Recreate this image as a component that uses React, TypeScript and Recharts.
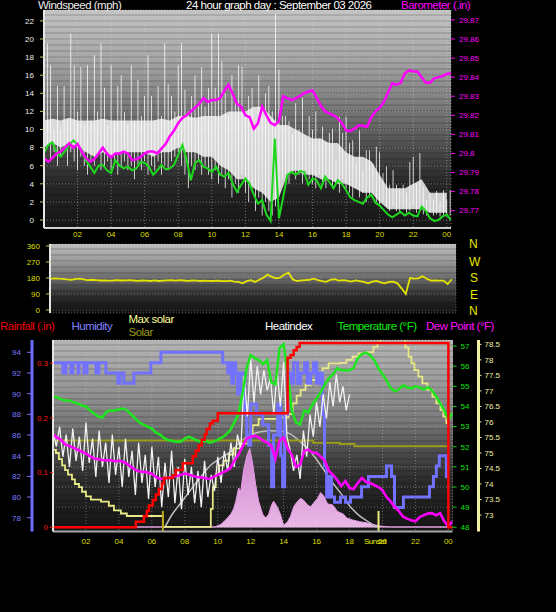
import React from 'react'
import {
  ComposedChart,
  Line,
  Area,
  Bar,
  XAxis,
  YAxis,
  CartesianGrid,
} from 'recharts'

const FONT = '"Liberation Sans", Arial, sans-serif'

// hours of the day, 24 = midnight
const HOUR_TICKS = [2, 4, 6, 8, 10, 12, 14, 16, 18, 20, 22, 24]
const X_DOMAIN: [number, number] = [0, 24.25]

// ── top panel: wind (mph) + barometer (in), sampled every 15 min
const avgWind = [
  7.4, 8.3, 8.6, 7.5, 7.0, 7.6, 8.3, 8.8, 8.3, 7.7, 6.6, 5.9, 5.2, 6.0, 6.1, 5.5, 5.2, 6.6, 6.0, 5.7,
  5.9, 5.5, 5.7, 6.4, 6.3, 5.9, 5.0, 5.5, 6.1, 5.6, 5.7, 6.1, 7.2, 8.3, 6.6, 4.4, 6.3, 6.6, 5.9, 5.7,
  5.3, 5.9, 5.0, 4.8, 5.2, 4.0, 3.1, 3.9, 4.6, 4.0, 2.8, 1.8, 2.2, 0.6, -0.1, 9.0, 0.2, 2.5, 5.0, 5.3,
  5.0, 5.4, 5.3, 3.9, 4.6, 4.4, 3.5, 4.8, 4.2, 3.5, 4.4, 4.0, 3.3, 2.5, 2.2, 2.0, 1.8, 2.5, 2.8, 1.9,
  1.6, 1.1, 0.6, 0.3, 0.6, 0.9, 0.5, 0.8, 0.5, 0.4, 1.5, 1.0, 0.2, -0.1, 0.0, 0.4, 0.6, 0.0,
]
const barometer = [
  29.7975, 29.7957, 29.7975, 29.8, 29.801, 29.803, 29.8053, 29.803, 29.805, 29.801,
  29.7975, 29.7957, 29.797, 29.8, 29.803, 29.8, 29.798, 29.8, 29.8, 29.801,
  29.8, 29.7965, 29.797, 29.798, 29.8, 29.801, 29.801, 29.8, 29.8025, 29.805,
  29.809, 29.812, 29.816, 29.8186, 29.82, 29.822, 29.824, 29.826, 29.829, 29.827,
  29.828, 29.828, 29.829, 29.833, 29.836, 29.831, 29.826, 29.8245, 29.82, 29.819,
  29.813, 29.8158, 29.8245, 29.82, 29.816, 29.8148, 29.817, 29.83, 29.829, 29.828,
  29.829, 29.83, 29.8316, 29.8325, 29.833, 29.829, 29.825, 29.822, 29.821, 29.82,
  29.8184, 29.816, 29.812, 29.8118, 29.813, 29.8148, 29.8145, 29.814, 29.819, 29.822,
  29.824, 29.827, 29.832, 29.8368, 29.836, 29.837, 29.842, 29.8435, 29.843, 29.843,
  29.84, 29.837, 29.837, 29.8394, 29.84, 29.8405, 29.8417, 29.842,
]
// gusts every 12 min
const gustWind = [
  9, 19.5, 17.1, 10, 14.8, 10, 14.8, 11, 20.6, 17.1, 12, 16.9, 10.5, 17.1, 11, 18.2, 12, 19.5, 14.6, 10.5,
  17.1, 11, 14.8, 16.0, 11.9, 10.5, 17.1, 11, 15.5, 11.5, 13.7, 18.2, 13.7, 11, 14.8, 11.5, 19.5, 15, 13.7, 12,
  17.1, 19.5, 14.4, 12, 13.7, 16.0, 13, 16.9, 12.5, 14.6, 20.6, 14.6, 20.6, 17.6, 14.0, 11.5, 16.0, 13, 17.1, 16.9,
  12, 13.7, 14.6, 10, 16.0, 11.5, 14.0, 14.8, 12, 22.8, 16.6, 11.5, 11.5, 10.9, 9.5, 12.9, 10, 13.5, 9.2, 11.5,
  10, 12, 9, 10.3, 8.5, 9.6, 10.1, 6.6, 11.4, 9.6, 11.4, 8.5, 8.8, 6.3, 9.9, 5.5, 7.7, 7.7, 6.3, 8.1,
  7.5, 5.2, 5.9, 3.9, 5.5, 3.9, 3.5, 3.9, 3, 6.4, 7.0, 4, 7.4, 3.7, 2.2, 3, 2.2, 3.2, 2.0, 3.3,
  2.2, 3.3,
]
// lulls every 12 min (bottom of each gust stroke)
const lullWind = [
  7, 8, 6.5, 7.5, 6, 7, 8, 6, 7.5, 6.5, 5.5, 7, 6, 5, 6.5, 6, 7, 5.5, 6, 6.5,
  5.5, 6.5, 5, 6, 6.5, 5.5, 6, 4.5, 6, 5.5, 6.5, 5, 6, 5.5, 6.5, 5, 6, 5.5, 6.5, 7,
  7.5, 6, 5, 3.5, 6, 5.5, 6.5, 5, 6, 5, 4.5, 5.5, 4, 5, 3.5, 4.5, 2.5, 4, 3, 5,
  3, 2, 3.5, 1, 2.5, 0.5, 2, 1, 0.5, 1.5, 3, 4.5, 5, 4, 5.5, 4.5, 5, 4, 5.5, 4.5,
  4, 3.5, 5, 4, 3.5, 4.5, 3.5, 4, 3, 4.5, 3.5, 3, 2.5, 3.5, 2.5, 3, 2, 2.5, 3, 2,
  1.5, 2, 1.5, 1, 1.5, 1, 0.8, 1.2, 0.8, 1, 1.5, 0.8, 1, 0.6, 0.5, 0.8, 0.5, 0.6, 0.4, 0.5,
  0.4, 0.5,
]
// dense wind band every 30 min
const windBandHigh = [
  11, 11.2, 11, 11.3, 11, 11, 11, 11.2, 11, 11, 11, 11, 11, 11, 11.2, 11, 11.5, 11.5, 11.3, 11.5,
  11.5, 11.5, 12, 12, 12, 12.5, 12.5, 11.5, 10.5, 10.5, 10, 9.5, 9, 9, 8.5, 8.5, 7.5, 7, 7, 6.5,
  5, 3.5, 3.5, 3.5, 4, 4.5, 3, 3, 3,
]
const windBandLow = [
  8, 8.5, 8, 8.5, 8, 7.5, 7, 7.5, 7, 7.5, 7.5, 7.5, 7.5, 7, 7.5, 7.5, 8, 7.5, 7.5, 7,
  7, 6, 5.5, 4.5, 4.5, 3.5, 3, 2, 2.5, 5, 5.5, 5, 5, 4.5, 4.5, 4, 4, 3.5, 3, 3,
  2, 1.2, 1.2, 1.2, 1.2, 1.2, 0.8, 0.8, 0.8,
]

// ── middle panel: wind direction (deg), every 15 min
const windDirection = [
  175, 178, 176, 175, 172, 170, 174, 176, 172, 168, 170, 168, 166, 167, 165, 166, 168, 166, 167, 168,
  166, 164, 166, 165, 163, 166, 163, 165, 167, 168, 165, 168, 166, 164, 166, 165, 163, 165, 164, 163,
  165, 163, 162, 165, 160, 158, 150, 162, 168, 158, 170, 182, 199, 186, 178, 182, 200, 210, 172, 163,
  166, 168, 170, 176, 168, 162, 158, 170, 173, 165, 168, 165, 160, 167, 163, 158, 150, 160, 163, 155,
  150, 158, 160, 150, 122, 90, 180, 176, 178, 190, 176, 165, 166, 165, 165, 146, 173,
]

// ── bottom panel
const temperature = [
  54.5, 54.45, 54.35, 54.3, 54.3, 54.2, 54.15, 54.05, 54.0, 53.8, 53.65, 53.5, 53.45, 53.75, 53.8, 53.8, 53.85, 53.9, 53.8, 53.6,
  53.4, 53.2, 53.1, 53.0, 52.9, 52.7, 52.6, 52.42, 52.33, 52.28, 52.25, 52.25, 52.4, 52.5, 52.4, 52.3, 52.25, 52.3, 52.2, 52.25,
  52.35, 52.45, 52.6, 52.8, 53.2, 53.6, 54.6, 55.9, 56.55, 56.4, 56.3, 56.1, 56.3, 55.2, 55.1, 56.9, 57.1, 55.6, 53.8, 53.2,
  53.1, 53.8, 53.7, 54.1, 54.4, 54.7, 55.1, 55.4, 55.6, 55.9, 55.8, 55.8, 55.8, 55.9, 56.4, 56.6, 56.67, 56.55, 56.3, 55.9,
  55.6, 55.3, 54.9, 54.75, 54.85, 55.05, 54.95, 54.9, 55.0, 54.95, 54.85, 54.95, 54.8, 54.5, 54.15, 53.8, 53.35, 53.66,
]
const dewPoint = [
  52.6, 52.45, 52.33, 52.1, 52.03, 51.95, 51.85, 51.75, 51.67, 51.52, 51.42, 51.38, 51.34, 51.32, 51.34, 51.28, 51.3, 51.25, 51.15, 51.0,
  50.85, 50.77, 50.75, 50.72, 50.66, 50.5, 50.4, 50.42, 50.46, 50.5, 50.55, 50.6, 50.67, 50.62, 50.55, 50.5, 50.48, 50.43, 50.4, 50.5,
  50.6, 50.7, 50.8, 50.92, 51.3, 51.6, 52.0, 52.4, 52.5, 52.55, 52.45, 52.3, 52.2, 52.05, 51.4, 52.3, 52.45, 51.9, 51.6, 51.0,
  51.1, 51.8, 51.85, 51.7, 51.7, 51.5, 51.3, 50.8, 50.6, 50.35, 50.05, 50.3, 49.95, 49.9, 50.2, 50.45, 50.25, 50.2, 50.1, 50.0,
  49.85, 49.5, 49.27, 49.0, 48.8, 48.52, 48.43, 48.35, 48.3, 48.5, 48.6, 48.68, 48.7, 48.6, 48.7, 48.3, 48.05, 48.3,
]
// every 12 min, ends at 18:00
const heatIndex = [
  52.8, 52.0, 53.0, 51.5, 52.6, 51.0, 52.9, 51.3, 52.5, 50.8, 53.2, 51.2, 52.4, 50.5, 52.8, 51.0, 52.2, 50.2, 52.6, 50.6,
  52.0, 50.0, 52.4, 50.5, 51.8, 49.6, 52.2, 50.2, 51.6, 49.4, 52.0, 50.0, 51.5, 49.0, 51.2, 49.5, 51.8, 49.2, 51.0, 48.9,
  51.4, 49.6, 51.0, 49.2, 50.8, 49.0, 51.3, 49.5, 50.6, 49.8, 51.5, 50.2, 51.8, 50.8, 52.2, 51.0, 52.6, 51.8, 55.5, 53.5,
  56.4, 54.2, 56.0, 54.6, 55.8, 54.8, 55.4, 53.6, 55.8, 54.0, 56.2, 52.5, 51.8, 50.8, 51.6, 50.4, 52.8, 51.5, 53.6, 52.5,
  54.2, 53.0, 54.6, 53.4, 55.2, 54.0, 55.6, 54.2, 55.0, 53.8, 54.6,
]
const humidityHours = [
  0, 0.61, 0.79, 1.09, 1.21, 1.52, 1.58, 1.88, 2.06, 2.61, 2.79, 3.21, 3.94, 4.06, 4.3, 4.91, 5.94, 6.55, 10.3, 10.61,
  10.73, 10.85, 10.97, 11.09, 11.21, 11.39, 11.64, 11.76, 11.88, 12.0, 12.36, 12.73, 13.09, 13.27, 13.39, 13.64, 13.82, 13.94, 14.06, 14.24,
  14.42, 14.61, 14.85, 15.03, 15.27, 15.45, 15.64, 15.82, 16.0, 16.18, 16.36, 16.48, 16.61, 16.73, 16.91, 17.09, 17.45, 17.76, 18.06, 18.3,
  18.73, 19.15, 20.24, 20.55, 20.73, 21.27, 22.85, 23.09, 23.27, 23.45, 23.88, 24.0,
]
const humidity = [
  93, 92, 93, 92, 93, 92, 93, 92, 93, 92, 93, 92, 91, 92, 91, 92, 93, 94, 93, 92,
  93, 91, 93, 92, 90, 92, 88, 86, 85, 89, 88, 87, 85, 81, 86, 89, 84, 81, 88, 92,
  91, 93, 91, 92, 93, 91, 92, 93, 91, 92, 88, 83, 80, 82, 80, 79.5, 80, 79.5, 80, 80,
  81, 82, 83, 82, 79, 80, 81, 82, 83, 84, 82, 82,
]
const rainHours = [
  0, 5.03, 5.52, 5.7, 5.82, 6.06, 6.24, 6.42, 6.61, 6.73, 7.27, 7.45, 7.88, 8.48, 8.67, 8.85, 9.03, 9.21, 9.33, 9.52,
  9.7, 10.0, 14.24, 14.42, 14.61, 14.79, 14.97, 24.0, 24.25,
]
const rainfall = [
  0, 0.01, 0.02, 0.03, 0.04, 0.05, 0.06, 0.07, 0.08, 0.09, 0.095, 0.105, 0.117, 0.13, 0.14, 0.15, 0.16, 0.17, 0.18, 0.19,
  0.195, 0.2085, 0.31, 0.315, 0.324, 0.33, 0.337, 0, 0,
]
const indoorHours = [
  0, 0.18, 0.36, 0.55, 0.73, 0.91, 1.15, 1.33, 1.58, 1.76, 2.0, 2.3, 2.91, 3.39, 3.7, 4.12, 4.48, 6.67, 9.45, 9.58,
  9.7, 9.88, 10.06, 10.36, 10.67, 10.97, 11.39, 11.82, 12.12, 12.48, 13.21, 13.82, 14.3, 14.55, 14.79, 15.03, 15.33, 15.64, 16.0, 16.36,
  16.73, 17.45, 17.82, 18.18, 18.55, 19.03, 19.45, 19.7, 19.88, 21.21, 21.39, 21.58, 21.76, 21.94, 22.18, 22.42, 22.73, 23.03, 23.27, 23.52,
  23.7, 23.88, 24.0,
]
const indoorTemp = [
  75.1, 75.0, 74.8, 74.6, 74.45, 74.3, 74.15, 74.0, 73.9, 73.75, 73.6, 73.5, 73.43, 73.3, 73.15, 73.05, 72.97, 72.62, 72.62, 73.2,
  73.9, 74.3, 74.6, 74.75, 74.95, 75.15, 75.3, 75.55, 75.9, 76.1, 76.1, 76.15, 76.25, 76.6, 76.85, 77.03, 77.19, 77.35, 77.57, 77.73,
  77.89, 77.9, 78.0, 78.1, 78.21, 78.25, 78.42, 78.54, 79.2, 79.2, 78.4, 78.1, 77.89, 77.67, 77.46, 77.24, 77.03, 76.81, 76.6, 76.38,
  76.17, 75.96, 75.85,
]
const solarLineHours = [0, 15.8, 17.4, 18.3, 24.0]
const solarLine = [75.4, 75.33, 75.29, 75.22, 75.22]
const maxSolarHours = [
  6.79, 7.21, 7.76, 8.36, 8.97, 9.58, 10.18, 10.79, 11.39, 12.0, 12.61, 13.21, 13.82, 14.42, 15.03, 15.64, 16.24, 16.85, 17.45, 18.06,
  18.67, 19.27, 19.64,
]
const maxSolar = [
  0, 6.6, 13, 20, 27, 33.3, 37, 40.4, 45.7, 49.3, 51, 51.6, 51.4, 49.8, 45.6, 40.2, 33.3, 25.3, 18.4, 10.9,
  5.7, 2.3, 0,
]
const solarHours = [
  0, 9.7, 9.88, 10.18, 10.48, 10.79, 10.97, 11.09, 11.27, 11.39, 11.58, 11.76, 11.94, 12.12, 12.3, 12.48, 12.73, 12.91, 13.09, 13.27,
  13.39, 13.64, 13.82, 14.0, 14.24, 14.42, 14.61, 14.85, 15.03, 15.21, 15.45, 15.64, 15.82, 16.06, 16.24, 16.42, 16.67, 16.97, 17.27, 17.64,
  17.82, 18.18, 18.61, 19.03, 19.45, 19.88, 20.48, 24.0,
]
const solarRadiation = [
  0.3, 0.3, 0.5, 1.5, 4, 7, 10, 13.7, 21, 19, 31, 38, 42, 34, 23, 14, 7, 5, 7, 12,
  14, 10.5, 6.6, 1, 3, 6, 11, 14, 15.5, 14.5, 12, 11, 13, 15.5, 18.5, 17, 12.5, 12, 8.5, 7,
  5, 4, 3, 2.5, 1.5, 0.7, 0.3, 0.3,
]
const sunrise = 6.67
const sunset = 19.76

const stepRows = (vals: number[], step: number) => vals.map((v, i) => ({ h: i * step, v }))
const timedRows = (hours: number[], vals: number[]) => hours.map((h, i) => ({ h, v: vals[i] }))

const hourLabel = (h: number) => String(h % 24).padStart(2, '0')
const trimNum = (v: number) => String(Number(v.toFixed(2)))

const tickStyle = (fill: string) => ({ fill, fontSize: 8, fontFamily: FONT })

function Txt({ x, y, color, size = 11.5, children }: any) {
  return (
    <div
      style={{
        position: 'absolute', left: x, top: y, color, fontSize: size, lineHeight: `${size}px`,
        fontFamily: FONT, letterSpacing: -0.5, whiteSpace: 'nowrap',
      }}
    >
      {children}
    </div>
  )
}

const SCAN = 'repeating-linear-gradient(to bottom, rgba(0,0,0,0) 0px, rgba(0,0,0,0) 4px, rgba(0,0,0,0.12) 4px, rgba(0,0,0,0.12) 6px)'

function Backdrop({ x, y, w, h, grad }: any) {
  return (
    <div style={{ position: 'absolute', left: x, top: y, width: w, height: h, background: `${SCAN}, ${grad}` }} />
  )
}

export default function App() {
  const bandRows = windBandHigh.map((hi, i) => ({ h: i * 0.5, range: [windBandLow[i], hi] }))
  const gustRows = gustWind.map((g, i) => ({ h: i * 0.2, gust: [lullWind[i], g] }))
  const sunMarks = (h: number) => [{ h, v: -0.0077 }, { h, v: 0.03 }]

  return (
    <div style={{ position: 'fixed', left: 0, top: 0, width: 556, height: 612, background: '#000', overflow: 'hidden' }}>
      <Backdrop x={44} y={10} w={407} h={218}
        grad="linear-gradient(to bottom, #c4c4c4 0%, #a6a6a6 22%, #848484 40%, #626262 55%, #3e3e3e 69%, #272727 80%, #1c1c1c 92%, #161616 100%)" />
      <Backdrop x={50} y={244} w={406} h={69}
        grad="linear-gradient(to bottom, #bcbcbc 0%, #9a9a9a 25%, #6a6a6a 50%, #333 72%, #1c1c1c 88%, #151515 100%)" />
      <Backdrop x={53} y={340} w={400} h={192}
        grad="linear-gradient(to bottom, #b4b4b4 0%, #9c9c9c 21%, #7a7a7a 42%, #4e4e4e 57%, #2c2c2c 73%, #1c1c1c 88%, #161616 100%)" />

      {/* wind + barometer */}
      <div style={{ position: 'absolute', left: 0, top: 0 }}>
        <ComposedChart width={556} height={245} data={gustRows} margin={{ top: 10, right: 0, bottom: 0, left: 0 }}>
          <CartesianGrid yAxisId="wind" stroke="#d8d8d8" strokeOpacity={0.45} strokeDasharray="1 2" />
          <XAxis type="number" dataKey="h" domain={X_DOMAIN} ticks={HOUR_TICKS} interval={0} allowDataOverflow
            height={17} tickFormatter={hourLabel} tick={tickStyle('#dede00')} tickLine={false} tickSize={1} tickMargin={2.5}
            axisLine={{ stroke: '#cfcfcf', strokeWidth: 2 }} />
          <YAxis yAxisId="wind" width={44} domain={[-0.88, 23.2]} allowDataOverflow
            ticks={[0, 2, 4, 6, 8, 10, 12, 14, 16, 18, 20, 22]} interval={0}
            tick={tickStyle('#ececec')} tickSize={4} tickMargin={6}
            tickLine={{ stroke: '#c8c870' }} axisLine={{ stroke: '#e6e6e6', strokeWidth: 2 }} />
          <YAxis yAxisId="baro" orientation="right" width={105} domain={[29.7609, 29.8752]} allowDataOverflow
            ticks={[29.77, 29.78, 29.79, 29.8, 29.81, 29.82, 29.83, 29.84, 29.85, 29.86, 29.87]} interval={0}
            tickFormatter={trimNum} tick={tickStyle('#ff00ff')} tickSize={4} tickMargin={4}
            tickLine={{ stroke: '#ff00ff' }} axisLine={false} />
          <Area yAxisId="wind" data={bandRows} dataKey="range" type="linear" stroke="none"
            fill="#f2f2f2" fillOpacity={0.84} isAnimationActive={false} />
          <Bar yAxisId="wind" dataKey="gust" fill="#ffffff" barSize={2.2} isAnimationActive={false} />
          <Line yAxisId="wind" data={stepRows(avgWind, 0.25)} dataKey="v" type="linear" stroke="#1ed81e"
            strokeWidth={2} dot={false} isAnimationActive={false} />
          <Line yAxisId="baro" data={stepRows(barometer, 0.25)} dataKey="v" type="linear" stroke="#ff00ff"
            strokeWidth={2.5} dot={false} isAnimationActive={false} />
        </ComposedChart>
      </div>

      {/* wind direction */}
      <div style={{ position: 'absolute', left: 0, top: 236 }}>
        <ComposedChart width={556} height={80} margin={{ top: 8, right: 100, bottom: 3, left: 0 }}>
          <CartesianGrid yAxisId="dir" stroke="#d8d8d8" strokeOpacity={0.35} strokeDasharray="1 2" />
          <XAxis type="number" dataKey="h" domain={X_DOMAIN} ticks={HOUR_TICKS} interval={0} allowDataOverflow
            height={0} tick={false} tickLine={false} axisLine={{ stroke: '#bdbdbd', strokeWidth: 2 }} />
          <YAxis yAxisId="dir" width={50} domain={[-16.9, 371.2]} allowDataOverflow
            ticks={[0, 90, 180, 270, 360]} interval={0} tick={tickStyle('#dede00')} tickSize={4} tickMargin={6}
            tickLine={{ stroke: '#c8c870' }} axisLine={{ stroke: '#e6e6e6', strokeWidth: 2 }} />
          <Line yAxisId="dir" data={stepRows(windDirection, 0.25)} dataKey="v" type="linear" stroke="#e4e400"
            strokeWidth={1.8} dot={false} isAnimationActive={false} />
        </ComposedChart>
      </div>

      {/* rain / humidity / temperatures  (axis ids sort inner -> outer) */}
      <div style={{ position: 'absolute', left: 0, top: 330 }}>
        <ComposedChart width={556} height={225} margin={{ top: 10, right: 0, bottom: 0, left: 0 }}>
          <CartesianGrid yAxisId="a_temp" stroke="#d8d8d8" strokeOpacity={0.4} strokeDasharray="1 2" />
          <XAxis type="number" dataKey="h" domain={X_DOMAIN} ticks={HOUR_TICKS} interval={0} allowDataOverflow
            height={23.5} tickFormatter={hourLabel} tick={tickStyle('#dede00')} tickLine={false} tickSize={1} tickMargin={6}
            axisLine={{ stroke: '#a8a8a8', strokeWidth: 2 }} />
          <YAxis yAxisId="a_rain" width={21} domain={[-0.0077, 0.3426]} allowDataOverflow
            ticks={[0, 0.1, 0.2, 0.3]} interval={0} tick={tickStyle('#ff1010')} tickSize={3} tickMargin={2}
            tickLine={{ stroke: '#ff2020' }} axisLine={{ stroke: '#e6e6e6', strokeWidth: 2 }} />
          <YAxis yAxisId="b_hum" width={32} domain={[76.67, 95.19]} allowDataOverflow
            ticks={[78, 80, 82, 84, 86, 88, 90, 92, 94]} interval={0} tick={tickStyle('#7a7aff')} tickSize={5} tickMargin={6}
            tickLine={{ stroke: '#7a7aff' }} axisLine={{ stroke: '#6c6cff', strokeWidth: 3 }} />
          <YAxis yAxisId="a_temp" orientation="right" width={26} domain={[47.79, 57.3]} allowDataOverflow
            ticks={[48, 49, 50, 51, 52, 53, 54, 55, 56, 57]} interval={0} tick={tickStyle('#10e010')}
            tickSize={4} tickMargin={4} tickLine={{ stroke: '#10d010' }} axisLine={false} />
          <YAxis yAxisId="b_heat" orientation="right" width={77.5} domain={[72.47, 78.64]} allowDataOverflow
            ticks={[73, 73.5, 74, 74.5, 75, 75.5, 76, 76.5, 77, 77.5, 78, 78.5]} interval={0}
            tick={tickStyle('#f0f0a8')} tickSize={3} tickMargin={3}
            tickLine={{ stroke: '#f0f0a8' }} axisLine={{ stroke: '#f0f0a0', strokeWidth: 3 }} />
          <YAxis yAxisId="solar" hide domain={[-2.2, 100]} allowDataOverflow />

          <defs>
            <linearGradient id="solarFill" x1="0" y1="0" x2="0" y2="1">
              <stop offset="0%" stopColor="#d88ad8" />
              <stop offset="100%" stopColor="#f4c0f0" />
            </linearGradient>
          </defs>
          <Area yAxisId="solar" data={timedRows(solarHours, solarRadiation)} dataKey="v" type="linear"
            stroke="#e79be7" strokeWidth={1} fill="url(#solarFill)" fillOpacity={0.95} baseValue={0}
            isAnimationActive={false} />
          <Line yAxisId="solar" data={timedRows(maxSolarHours, maxSolar)} dataKey="v" type="monotone"
            stroke="#bdbdbd" strokeWidth={1.5} dot={false} isAnimationActive={false} />
          <Line yAxisId="b_heat" data={timedRows(solarLineHours, solarLine)} dataKey="v" type="stepAfter"
            stroke="#9c9c1c" strokeWidth={2} dot={false} isAnimationActive={false} />
          <Line yAxisId="b_heat" data={timedRows(indoorHours, indoorTemp)} dataKey="v" type="stepAfter"
            stroke="#e8e886" strokeWidth={1.8} dot={false} isAnimationActive={false} />
          <Line yAxisId="a_rain" data={sunMarks(sunrise)} dataKey="v" stroke="#b8a818" strokeWidth={2}
            dot={false} isAnimationActive={false} />
          <Line yAxisId="a_rain" data={sunMarks(sunset)} dataKey="v" stroke="#ecec80" strokeWidth={2}
            dot={false} isAnimationActive={false} />
          <Line yAxisId="b_hum" data={timedRows(humidityHours, humidity)} dataKey="v" type="stepAfter"
            stroke="#7272ff" strokeWidth={3} dot={false} isAnimationActive={false} />
          <Line yAxisId="a_temp" data={stepRows(heatIndex, 0.2)} dataKey="v" type="linear"
            stroke="#f2f2f2" strokeWidth={1.3} dot={false} isAnimationActive={false} />
          <Line yAxisId="a_temp" data={stepRows(dewPoint, 0.25)} dataKey="v" type="linear"
            stroke="#ff00ff" strokeWidth={2.6} dot={false} isAnimationActive={false} />
          <Line yAxisId="a_temp" data={stepRows(temperature, 0.25)} dataKey="v" type="linear"
            stroke="#1ee61e" strokeWidth={2.5} dot={false} isAnimationActive={false} />
          <Line yAxisId="a_rain" data={timedRows(rainHours, rainfall)} dataKey="v" type="stepAfter"
            stroke="#ff0000" strokeWidth={2.5} dot={false} isAnimationActive={false} />
        </ComposedChart>
      </div>

      {/* titles and legends */}
      <Txt x={38} y={0.3} color="#ececec">Windspeed (mph)</Txt>
      <Txt x={186} y={0.3} color="#ffffff">24 hour graph day : September 03 2026</Txt>
      <Txt x={401} y={0.3} color="#ff00ff">Barometer (.in)</Txt>

      <Txt x={469} y={238.1} color="#e8e800" size={12}>N</Txt>
      <Txt x={469} y={256.1} color="#e8e800" size={12}>W</Txt>
      <Txt x={470} y={272.1} color="#e8e800" size={12}>S</Txt>
      <Txt x={470} y={288.6} color="#e8e800" size={12}>E</Txt>
      <Txt x={469} y={304.6} color="#e8e800" size={12}>N</Txt>

      <Txt x={0} y={321} color="#ee0000">Rainfall (.in)</Txt>
      <Txt x={71.5} y={321} color="#8282ff">Humidity</Txt>
      <Txt x={128.5} y={313.6} color="#ffff9a">Max solar</Txt>
      <Txt x={128.5} y={327} color="#9a9a10">Solar</Txt>
      <Txt x={265} y={321} color="#ffffff">Heatindex</Txt>
      <Txt x={337.5} y={321} color="#10ee10">Temperature (°F)</Txt>
      <Txt x={426} y={321} color="#ff10ff">Dew Point (°F)</Txt>

      <Txt x={364} y={538} color="#e8e800" size={8}>Sunset</Txt>
    </div>
  )
}
